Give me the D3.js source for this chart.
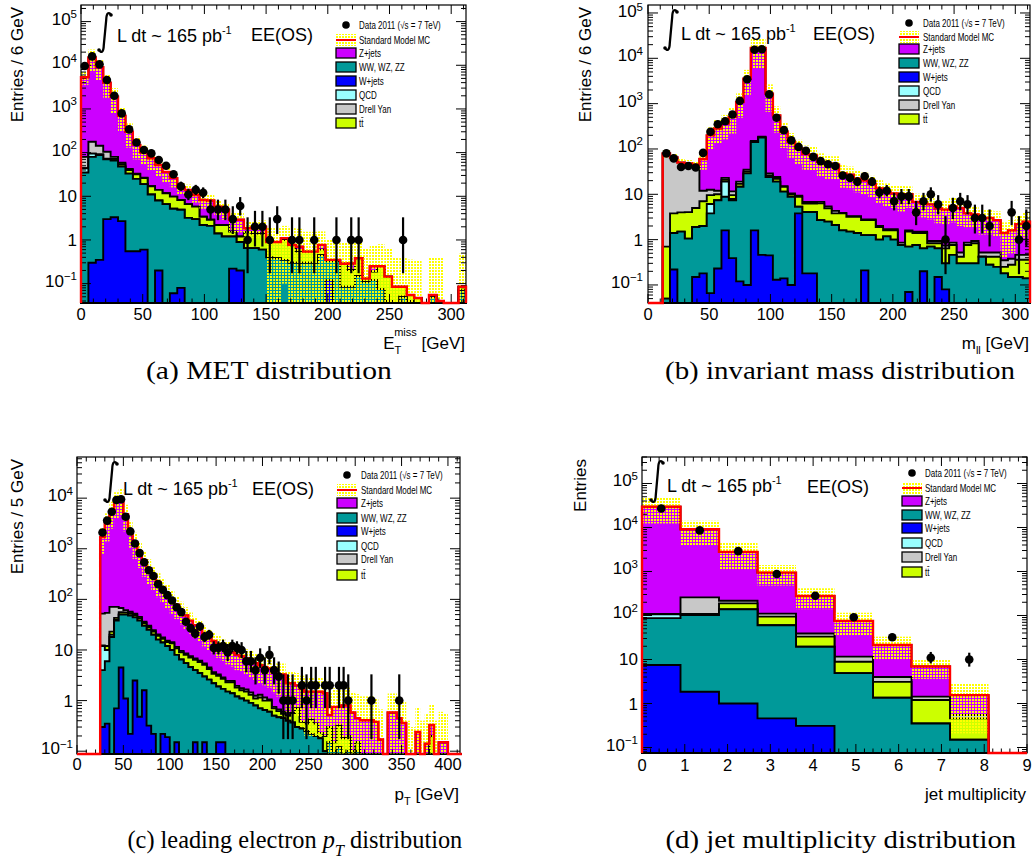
<!DOCTYPE html>
<html>
<head>
<meta charset="utf-8">
<script src="https://cdn.jsdelivr.net/npm/d3@7"></script>
<style>
  body { margin: 0; background: #fff; }
  svg { display: block; }
</style>
</head>
<body>
<svg id="fig" width="1033" height="864"></svg>
<script>
// ---------------- (a) missing transverse energy, 6 GeV bins from 0 ----------------
const metData = [
  9600,16000,10500,4600,2000,790,340,170,115,96,
  68,50,32,17,11,14,12,5,5,5,
  3,6,1,2,2,1,3,0,1,1,
  0,1,0,0,1,0,1,1,0,0,
  0,0,0,1,0,0,0,0,0,0,
  0,0];
const metZjets = [
  5220,14800,8860,3900,1820,640,258,117,73.5,57,
  38,24.3,16.2,7.8,7.4,4.9,4.8,5.1,3.6,2.7,
  1.35,1.7,0.35,0.5,0.6,0,0,0.1,0.02,0.16,
  0,0,0.17,0,0,0,0.085,0,0,0.06,
  0,0,0,0,0,0,0,0,0,0,
  0,0];
const metDiboson = [
  35,79.7,87.6,67,62.7,45.3,32.45,24.45,18.4,11,
  7.8,6.6,5.14,4.82,3.2,3.0,2.2,2.1,1.4,1.2,
  0.98,0.7,0.65,0.65,0.6,0.4,0.38,0.35,0.3,0.3,
  0.3,0.3,0.45,0.21,0.33,0.085,0.085,0.15,0.11,0.12,
  0.075,0.04,0,0.05,0.04,0,0,0.05,0.04,0,
  0,0.07];
const metWjets = [
  0,0.3,0.35,3.0,3.3,2.7,0.55,0.55,0.6,0,
  0.2,0,0.06,0.08,0,0,0,0,0,0,
  0.22,0.2,0,0,0,0,0,0,0,0,
  0,0,0,0.12,0,0,0,0,0,0,
  0,0,0,0,0,0,0,0,0,0,
  0,0];
const metQcd = [
  9,15,3,2,1,0.5,0,0,0,0,
  0,0,0,0,0,0,0,0,0,0,
  0,0,0,0,0,0,0,0,0,0,
  0,0,0,0,0,0,0,0,0,0,
  0,0,0,0,0,0,0,0,0,0,
  0,0];
const metDrellYan = [
  36,83,53,32,8,4,2,1,0.5,0,
  0,0,0,0,0,0,0,0,0,0,
  0,0,0,0,0,0,0,0,0,0,
  0,0,0,0,0,0,0,0,0,0,
  0,0,0,0,0,0,0,0,0,0,
  0,0];
const metTtbar = [
  0,0,0,1,5,6,7,7,7,6,
  6,5.1,4.6,3.3,3.4,2.8,1.2,0.8,0.8,1.0,
  0.35,0.3,0.85,0.75,0.8,0.5,0.52,0.65,0.45,0.24,
  0.24,0.24,0.15,0.02,0.02,0.2,0.12,0.23,0.02,0.07,
  0.175,0.105,0.085,0.035,0.015,0.047,0,0.005,0,0,
  0,0.015];
const metMcErr = [
  1750,8000,4500,2200,1100,400,170,80,45,35,
  24,15,10,5,4.5,3.5,3,3,2.2,2,
  1.4,1.4,0.8,0.8,0.8,1.0,1.0,1.0,1.1,1.1,
  1.0,1.0,0.8,0.7,0.7,0.6,0.6,0.5,0.5,0.5,
  0.55,0.5,0.3,0.3,0.3,0.3,0,0.35,0.35,0,
  0,0.4];

// ---------------- (b) dilepton invariant mass, 6 GeV bins from 0 ----------------
const mllData = [
  0,0,80,62,40,42,39,82,240,350,
  410,575,1150,3450,15500,15800,1600,490,260,155,
  111,91,67,54,46,42,26,23,19,25,
  19,11,12,7,9,9,4,7,10,6,
  1,5,7,6,3,3,2,0,0,4,
  1,2];
const mllZjets = [
  0,0,1.3,0.2,0,0.95,2,48,187,271,
  341,498,1071,3525,16850,16810,1631,526,225,133.5,
  93.7,70.2,65.2,45.2,42.6,40.7,25.1,23.7,18.7,17.2,
  14.2,11.5,9.7,8.8,8.84,8.4,5.3,4.8,5.07,3.97,
  3.86,4.54,4.48,2.94,2.67,2.48,2.48,2.18,1.05,1.22,
  1.74,2.04];
const mllDiboson = [
  0,0,0.05,1.18,1.5,1.05,1.75,1.82,3.73,7.17,
  7.2,7.0,14.6,28.9,141.4,177.5,23.5,18.9,11.3,8.7,
  1.5,3.9,3.9,2.7,2.5,2.1,1.6,1.5,1.4,1.05,
  1.26,1.0,1.18,1.0,0.76,0.63,0.76,0.44,0.7,0.49,
  0.22,0.46,0.3,0.3,0.3,0.42,0.28,0.25,0.18,0.15,
  0.15,0.14];
const mllWjets = [
  0,0,0,0.22,0,0,0.15,0.18,0.066,0.23,
  1.6,0.39,0.12,0.1,1.6,0.46,0.45,0.13,0.14,0.1,
  3.8,0.18,0.18,0,0,0,0,0,0,0.21,
  0,0,0,0,0,0.07,0,0.2,0,0.15,
  0.08,0,0,0,0,0,0,0,0,0,
  0,0];
const mllQcd = [
  0,0,0,0,0,0,0,0,2.3,0,
  10.2,0.5,0,0,0,0,0,0,0,0,
  0,0,0,0,0,0,0,0,0,0,
  0,0,0,0,0,0,0,0,0,0,
  0,0,0,0,0,0,0,0,0,0,
  0,0];
const mllDrellYan = [
  0,0,78,61,46,43,38,5,3,2,
  2,2,2,3,5,5,3,2,0.5,0.5,
  0.5,0.5,0.5,0.5,0.5,0.5,0.1,0.1,0.1,0.1,
  0.1,0.1,0.1,0.1,0.1,0.1,0.1,0.1,0.1,0.1,
  0.1,0.1,0.1,0.1,0.1,0.1,0.1,0.1,0.1,0.1,
  0.1,0.1];
const mllTtbar = [
  0,0,0.65,2.4,2.5,3,3.1,5,3.5,2.6,
  2,1.7,2.3,3,3,3,2,3,3.2,1.2,
  3.5,2.2,2.2,3.6,2.4,1.7,2.2,1.7,1.8,1.44,
  1.44,0.9,0.42,0.6,0,0.8,0.64,0.76,0.13,0.19,
  0.34,0.3,0.12,0.46,0.53,0,0.14,0.17,0.07,0.13,
  0.21,0.22];
const mllMcErr = [
  0,0,15,12,10,9,8,25,100,150,
  200,290,600,2000,11000,11000,1000,320,135,80,
  56,42,39,28,26,24,15,14,11,10,
  8.5,7,6,5.5,5.5,5,3.5,3.2,3.2,2.6,
  2.5,3,3,2,1.8,1.7,1.7,1.5,1.0,1.1,
  1.3,1.4];

// ---------------- (c) leading electron pT, 5 GeV bins from 0 ----------------
const ptData = [
  0,0,0,0,0,2100,3600,5400,9200,9500,
  4300,2200,1270,820,540,375,290,200,155,121,
  95,70,56,36,27,21,29,18,20,11,
  11,12,9,12,11,10,6,6,4,7,
  4,8,4,3,1,1,1,0,2,1,
  2,2,0,2,2,0,2,2,1,0,
  0,0,0,1,0,0,0,0,0,1,
  0,0,0,0,0,0,0,0,0,0,
  0,0,0];
const ptZjets = [
  0,0,0,0,0,1648,3146,5429,8429,9732,
  4739,2243,1298,835,544,380,275,200,152,115,
  85.7,66.5,51.4,39.5,30.45,24.2,19.85,15.6,13.5,11.35,
  9.7,8.65,7.55,6.55,6.05,5.75,5.15,4.75,4.25,3.7,
  3.45,3.25,2.85,2.63,2.7,1.7,1.63,1.3,1.32,1.15,
  1.08,1.15,1.27,1.2,0.22,0.6,0.43,0.62,0.6,0.48,
  0.3,0.36,0.41,0.36,0.33,0.17,0,0.58,0.58,0.4,
  0.36,0,0,0.24,0,0.14,0.13,0,0.15,0.15,
  0,0,0];
const ptDiboson = [
  0,0,0,0,0,3.7,5.65,17.95,37.3,45.5,
  48.9,47.8,41.5,37.5,28.4,24.7,19.8,16,13.8,11.8,
  10,7.85,6.5,5.5,4.6,3.85,3.5,2.85,2.6,2.2,
  1.75,1.55,1.5,1.4,1.2,1.1,1.0,0.9,0.8,0.7,
  0.65,0.6,0.5,0.47,0.45,0.4,0.37,0.3,0.28,0.25,
  0.22,0.2,0.18,0.1,0.15,0.1,0.12,0.08,0.1,0.05,
  0.1,0.05,0,0.05,0,0,0,0,0,0.05,
  0,0,0,0,0,0,0,0,0,0,
  0,0,0];
const ptWjets = [
  0,0,0,0,0,0.3,0.35,0.05,0.7,4.5,
  1.1,0.22,2.5,0.48,1.6,0.32,0.22,0,0.22,0.19,
  0,0.15,0,0,0,0.15,0,0.15,0,0,
  0.15,0.15,0,0,0,0,0,0,0,0,
  0,0,0,0,0,0,0,0,0,0,
  0,0,0,0,0,0,0,0,0,0,
  0,0,0,0,0,0,0,0,0,0,
  0,0,0,0,0,0,0,0,0,0,
  0,0,0];
const ptQcd = [
  0,0,0,0,0,8,4,2,1,0.5,
  0.3,0,0,0,0,0,0,0,0,0,
  0,0,0,0,0,0,0,0,0,0,
  0,0,0,0,0,0,0,0,0,0,
  0,0,0,0,0,0,0,0,0,0,
  0,0,0,0,0,0,0,0,0,0,
  0,0,0,0,0,0,0,0,0,0,
  0,0,0,0,0,0,0,0,0,0,
  0,0,0];
const ptDrellYan = [
  0,0,0,0,0,40,42,48,28,12,
  6,4,3,2.5,2,1.6,1.4,1.2,1,0.9,
  0.8,0.7,0.6,0.5,0.45,0.4,0.35,0.3,0.3,0.25,
  0.2,0.15,0.15,0.15,0.15,0.15,0.15,0.15,0.15,0.15,
  0.15,0.05,0.05,0.05,0.05,0,0,0,0,0,
  0,0,0,0,0,0,0,0,0,0,
  0,0,0,0,0,0,0,0,0,0,
  0,0,0,0,0,0,0,0,0,0,
  0,0,0];
const ptTtbar = [
  0,0,0,0,0,0.3,2,3,4,5,
  5,5,5,4.5,4,3.5,3.2,3,2.6,2.4,
  3.5,2.8,2.5,2.5,2.5,2.4,2.3,2.1,1.6,1.2,
  1.2,1.0,0.8,0.9,0.6,0.5,0.5,0.4,0.3,0.45,
  0.35,0.4,0.2,0.15,0.1,0.1,0.2,0.4,0.1,0.1,
  0.2,0.15,0.05,0.1,0.15,0.05,0.2,0.1,0.1,0.05,
  0.05,0,0,0,0.05,0,0,0,0,0,
  0,0,0,0,0,0,0.2,0,0,0,
  0,0,0];
const ptMcErr = [
  0,0,0,0,0,900,1800,3000,4600,5400,
  2600,1250,720,460,300,210,150,110,84,64,
  48,37,29,22,17,14,11.5,9.2,8,6.8,
  6,5.4,4.8,4.3,4,3.8,3.5,3.3,3.0,2.8,
  2.6,2.5,2.2,2.1,2.1,1.6,1.6,1.5,1.4,1.3,
  1.3,1.3,1.3,1.2,0.9,1.0,1.0,1.0,1.0,0.9,
  0.9,0.8,0.8,0.8,0.7,0.5,0,0.8,0.8,0.7,
  0.6,0.4,0.3,0.5,0.4,0.4,0.5,0.4,0.45,0.4,
  0,0,0];

// ---------------- (d) jet multiplicity, bins of 0.9 from 0 ----------------
const njData     = [27000, 8600, 2900, 880, 280, 91, 32, 11, 10, 0];
const njZjets    = [29590, 8842, 2582, 830, 238, 64, 17.4, 5.5, 1.0, 0];
const njDiboson  = [79.5, 101, 137, 59.5, 19.2, 4.9, 1.35, 0.35, 0.15, 0];
const njWjets    = [7.5, 1.85, 1.0, 0.46, 0.31, 0, 0, 0, 0, 0];
const njQcd      = [20, 1, 0.5, 0.3, 0.1, 0, 0, 0, 0, 0];
const njDrellYan = [1, 149, 28, 16, 6, 2.7, 0.9, 0.23, 0.09, 0];
const njTtbar    = [0.5, 5, 50, 34, 13.5, 4, 1.75, 0.85, 0.31, 0];
const njMcErr    = [17300, 5100, 1700, 460, 138, 40, 11.6, 3.3, 1.34, 0];

// ---------------- styles ----------------
const FONT = "'Liberation Sans', Arial, Helvetica, sans-serif";
const SERIF = "'Liberation Serif', 'Times New Roman', serif";

// stacking order, bottom to top
const STACK = [
  { key: 'wjets',   color: '#0000ff' },
  { key: 'diboson', color: '#009999' },
  { key: 'qcd',     color: '#99ffff' },
  { key: 'ttbar',   color: '#ccff00' },
  { key: 'dy',      color: '#c8c8c8' },
  { key: 'zjets',   color: '#cc00ff' }
];
const COLOR = Object.fromEntries(STACK.map(s => [s.key, s.color]));

const LEGEND = [
  { type: 'data', label: 'Data 2011 (\u221As = 7 TeV)' },
  { type: 'mc',   label: 'Standard Model MC' },
  { type: 'box',  key: 'zjets',   label: 'Z+jets' },
  { type: 'box',  key: 'diboson', label: 'WW, WZ, ZZ' },
  { type: 'box',  key: 'wjets',   label: 'W+jets' },
  { type: 'box',  key: 'qcd',     label: 'QCD' },
  { type: 'box',  key: 'dy',      label: 'Drell Yan' },
  { type: 'box',  key: 'ttbar',   label: 'tt\u0304' }
];

// 68% Garwood intervals for small counts
const GARWOOD = [[0,1.841],[0.173,3.300],[0.708,4.638],[1.367,5.918],[2.086,7.163],
  [2.840,8.382],[3.620,9.584],[4.419,10.77],[5.232,11.95],[6.057,13.11],[6.891,14.27]];
function poissonBand(n) {
  if (n <= 10) return GARWOOD[n];
  const s = Math.sqrt(n + 0.25);
  return [n + 0.5 - s, n + 0.5 + s];
}

const PANELS = [
  {
    frame: { l: 81, r: 466, t: 5, b: 303 }, xDomain: [0, 312], yDomain: [0.036, 2.4e5], binW: 6,
    xMajor: 50, xMinor: 10, xLabelY: 320, yLabelX: 77,
    series: { data: metData, zjets: metZjets, diboson: metDiboson, wjets: metWjets, qcd: metQcd, dy: metDrellYan, ttbar: metTtbar, err: metMcErr },
    yTitle: 'Entries / 6 GeV', yTitleX: 23,
    xTitle: [{ t: 'E' }, { t: 'T', sub: true }, { t: 'miss', sup: true, back: 7 }, { t: ' [GeV]' }], xTitleY: 349,
    legend: { rows: [25, 40, 53, 67, 81, 95, 109, 123], box: 336, text: 359 },
    lumi: { ix: 105, it: 12, ib: 53, tx: 117, ty: 42, ex: 251, ey: 41 }
  },
  {
    frame: { l: 648, r: 1030, t: 5, b: 303 }, xDomain: [0, 312], yDomain: [0.04, 1.5e5], binW: 6,
    xMajor: 50, xMinor: 10, xLabelY: 320, yLabelX: 643,
    series: { data: mllData, zjets: mllZjets, diboson: mllDiboson, wjets: mllWjets, qcd: mllQcd, dy: mllDrellYan, ttbar: mllTtbar, err: mllMcErr },
    yTitle: 'Entries / 6 GeV', yTitleX: 591,
    xTitle: [{ t: 'm' }, { t: 'll', sub: true }, { t: ' [GeV]' }], xTitleY: 349,
    legend: { rows: [23, 37, 49, 63, 77, 91, 105, 119], box: 899, text: 923 },
    lumi: { ix: 671, it: 9, ib: 51, tx: 681, ty: 40, ex: 813, ey: 40 }
  },
  {
    frame: { l: 77, r: 460, t: 457, b: 754 }, xDomain: [0, 413], yDomain: [0.088, 6.5e4], binW: 5,
    xMajor: 50, xMinor: 10, xLabelY: 770, yLabelX: 73,
    series: { data: ptData, zjets: ptZjets, diboson: ptDiboson, wjets: ptWjets, qcd: ptQcd, dy: ptDrellYan, ttbar: ptTtbar, err: ptMcErr },
    yTitle: 'Entries / 5 GeV', yTitleX: 23,
    xTitle: [{ t: 'p' }, { t: 'T', sub: true }, { t: ' [GeV]' }], xTitleY: 800,
    legend: { rows: [475, 490, 503, 518, 531, 546, 559, 575], box: 337, text: 361 },
    lumi: { ix: 111, it: 461, ib: 503, tx: 123, ty: 495, ex: 252, ey: 495 }
  },
  {
    frame: { l: 642, r: 1027, t: 457, b: 753 }, xDomain: [0, 9], yDomain: [0.075, 4e5], binW: 0.9,
    xMajor: 1, xMinor: 0.2, xLabelY: 771, yLabelX: 638,
    series: { data: njData, zjets: njZjets, diboson: njDiboson, wjets: njWjets, qcd: njQcd, dy: njDrellYan, ttbar: njTtbar, err: njMcErr },
    yTitle: 'Entries', yTitleX: 586,
    xTitle: [{ t: 'jet multiplicity' }], xTitleY: 800,
    legend: { rows: [473, 488, 501, 515, 528, 543, 557, 572], box: 902, text: 925 },
    lumi: { ix: 657, it: 460, ib: 503, tx: 667, ty: 492, ex: 807, ey: 493 }
  }
];

const CAPTIONS = [
  { cx: 269, y: 379, w: 246, parts: [{ t: '(a) MET distribution' }] },
  { cx: 840, y: 379, w: 350, parts: [{ t: '(b) invariant mass distribution' }] },
  { cx: 295, y: 848, w: 335, parts: [{ t: '(c) leading electron ' }, { t: 'p', it: true }, { t: 'T', sub: true, it: true }, { t: ' distribution' }] },
  { cx: 841, y: 848, w: 351, parts: [{ t: '(d) jet multiplicity distribution' }] }
];

// ---------------- drawing ----------------
const svg = d3.select('#fig');
const defs = svg.append('defs');
// dotted fill for the MC uncertainty band
const pat = defs.append('pattern').attr('id', 'mcband')
  .attr('width', 3).attr('height', 3).attr('patternUnits', 'userSpaceOnUse');
pat.append('rect').attr('width', 2).attr('height', 2).attr('fill', '#ffff00');

function addParts(text, parts, size, small) {
  parts.forEach(p => {
    const ts = text.append('tspan').text(p.t);
    if (p.it) ts.attr('font-style', 'italic');
    if (p.sub) { ts.attr('font-size', small).attr('dy', size * 0.3); text._shift = size * 0.3; }
    else if (p.sup) {
      ts.attr('font-size', small).attr('dy', -size * 0.75 - (text._shift || 0));
      if (p.back) ts.attr('dx', -p.back);
      text._shift = -size * 0.75;
    } else if (text._shift) { ts.attr('dy', -text._shift); text._shift = 0; }
  });
}

function drawIntegral(g, cx, top, bottom) {
  const d = `M${cx + 6},${top + 3} C${cx + 4},${top - 0.5} ${cx + 1.4},${top + 0.5} ${cx + 1.2},${top + 8}` +
            ` L${cx - 1.2},${bottom - 8} C${cx - 1.4},${bottom - 0.5} ${cx - 4},${bottom + 0.5} ${cx - 6},${bottom - 3}`;
  g.append('path').attr('d', d).attr('fill', 'none').attr('stroke', '#000').attr('stroke-width', 2.3);
  g.append('circle').attr('cx', cx + 6).attr('cy', top + 3).attr('r', 1.8);
  g.append('circle').attr('cx', cx - 6).attr('cy', bottom - 3).attr('r', 1.8);
}

function drawPanel(P) {
  const g = svg.append('g');
  const { l, r, t, b } = P.frame;
  const x = d3.scaleLinear().domain(P.xDomain).range([l, r]);
  const y = d3.scaleLog().domain(P.yDomain).range([b, t]).clamp(true);
  const S = P.series;
  const n = S.data.length;
  const edges = d3.range(n + 1).map(i => P.binW * i);
  const yv = v => (v > 0 ? y(v) : b);
  const stepPath = (vals, close) => {
    let d = `M${x(edges[0])},${b}`;
    vals.forEach((v, i) => {
      const yy = yv(v);
      d += `L${x(edges[i])},${yy}L${x(edges[i + 1])},${yy}`;
    });
    d += `L${x(edges[n])},${b}`;
    return close ? d + 'Z' : d;
  };

  // cumulative stack
  const layers = [];
  let cum = new Array(n).fill(0);
  STACK.forEach(s => {
    cum = cum.map((c, i) => c + S[s.key][i]);
    layers.push({ color: s.color, vals: cum.slice() });
  });
  const total = layers[layers.length - 1].vals;
  layers.slice().reverse().forEach(L => {
    g.append('path').attr('d', stepPath(L.vals, true))
      .attr('fill', L.color).attr('stroke', '#000').attr('stroke-width', 1.9);
  });

  // MC uncertainty band
  S.err.forEach((e, i) => {
    if (!(e > 0)) return;
    const hi = total[i] + e, lo = total[i] - e;
    const y1 = y(hi), y2 = lo > 0 ? y(lo) : b;
    g.append('rect').attr('x', x(edges[i])).attr('width', x(edges[i + 1]) - x(edges[i]))
      .attr('y', y1).attr('height', Math.max(0, y2 - y1)).attr('fill', 'url(#mcband)');
  });

  // frame
  g.append('rect').attr('x', l).attr('y', t).attr('width', r - l).attr('height', b - t)
    .attr('fill', 'none').attr('stroke', '#000').attr('stroke-width', 1.2);

  // x ticks (bottom and top, pointing inward)
  const ticks = g.append('g').attr('stroke', '#000').attr('stroke-width', 1);
  const nMinor = Math.round((P.xDomain[1] - P.xDomain[0]) / P.xMinor);
  for (let k = 0; k <= nMinor; k++) {
    const v = P.xDomain[0] + k * P.xMinor;
    if (v > P.xDomain[1] + 1e-9) break;
    const major = Math.abs(v / P.xMajor - Math.round(v / P.xMajor)) < 1e-6;
    const len = major ? 9 : 4.5;
    const xx = x(v);
    ticks.append('line').attr('x1', xx).attr('x2', xx).attr('y1', b).attr('y2', b - len);
    ticks.append('line').attr('x1', xx).attr('x2', xx).attr('y1', t).attr('y2', t + len);
    if (major) {
      g.append('text').attr('x', xx).attr('y', P.xLabelY).attr('text-anchor', 'middle')
        .attr('font-family', FONT).attr('font-size', 16.5).text(d3.format('d')(Math.round(v)));
    }
  }

  // y ticks on a log axis
  const [ymin, ymax] = P.yDomain;
  for (let dec = Math.floor(Math.log10(ymin)); dec <= Math.ceil(Math.log10(ymax)); dec++) {
    for (let m = 1; m <= 9; m++) {
      const v = m * Math.pow(10, dec);
      if (v < ymin || v > ymax) continue;
      const yy = y(v);
      const len = m === 1 ? 10 : 5;
      ticks.append('line').attr('x1', l).attr('x2', l + len).attr('y1', yy).attr('y2', yy);
      ticks.append('line').attr('x1', r).attr('x2', r - len).attr('y1', yy).attr('y2', yy);
      if (m === 1) {
        const txt = g.append('text').attr('x', P.yLabelX).attr('text-anchor', 'end')
          .attr('font-family', FONT).attr('font-size', 17);
        if (dec === 0 || dec === 1) {
          txt.attr('y', yy + 6).text(dec === 0 ? '1' : '10');
        } else {
          txt.attr('y', Math.max(yy + 3, 17));
          txt.append('tspan').text('10');
          txt.append('tspan').attr('font-size', 11.5).attr('dy', -6.5).text(String(dec).replace('-', '\u2212'));
        }
      }
    }
  }

  // total MC outline
  g.append('path').attr('d', stepPath(total, false)).attr('fill', 'none')
    .attr('stroke', '#ff0000').attr('stroke-width', 2.4);

  // data with Poisson error bars
  S.data.forEach((cnt, i) => {
    if (!(cnt > 0)) return;
    const cx = x((edges[i] + edges[i + 1]) / 2);
    const [lo, hi] = poissonBand(cnt);
    g.append('line').attr('x1', cx).attr('x2', cx).attr('y1', yv(lo)).attr('y2', y(hi))
      .attr('stroke', '#000').attr('stroke-width', 2.2);
    g.append('circle').attr('cx', cx).attr('cy', y(cnt)).attr('r', 4.3).attr('fill', '#000');
  });

  // axis titles
  g.append('text').attr('transform', `translate(${P.yTitleX},${t + 2}) rotate(-90)`)
    .attr('text-anchor', 'end').attr('font-family', FONT).attr('font-size', 17).text(P.yTitle);
  const xt = g.append('text').attr('x', r - 1).attr('y', P.xTitleY).attr('text-anchor', 'end')
    .attr('font-family', FONT).attr('font-size', 17);
  addParts(xt, P.xTitle, 17, 11);

  // luminosity and channel labels
  const L = P.lumi;
  drawIntegral(g, L.ix, L.it, L.ib);
  const lt = g.append('text').attr('x', L.tx).attr('y', L.ty).attr('font-family', FONT).attr('font-size', 18);
  lt.append('tspan').text('L dt ~ 165 pb');
  lt.append('tspan').attr('font-size', 11).attr('dy', -8).text('-1');
  g.append('text').attr('x', L.ex).attr('y', L.ey).attr('font-family', FONT).attr('font-size', 18).text('EE(OS)');

  // legend
  const lg = P.legend;
  LEGEND.forEach((e, k) => {
    const ry = lg.rows[k];
    if (e.type === 'data') {
      g.append('circle').attr('cx', lg.box + 10).attr('cy', ry).attr('r', 3.8).attr('fill', '#000');
    } else if (e.type === 'mc') {
      g.append('rect').attr('x', lg.box).attr('y', ry - 6).attr('width', 20).attr('height', 12).attr('fill', 'url(#mcband)');
      g.append('line').attr('x1', lg.box).attr('x2', lg.box + 20).attr('y1', ry).attr('y2', ry)
        .attr('stroke', '#ff0000').attr('stroke-width', 2);
    } else {
      g.append('rect').attr('x', lg.box).attr('y', ry - 5).attr('width', 20).attr('height', 10)
        .attr('fill', COLOR[e.key]).attr('stroke', '#000').attr('stroke-width', 1.3);
    }
    g.append('text').attr('transform', `translate(${lg.text},${ry + 3.5}) scale(0.8,1)`)
      .attr('font-family', FONT).attr('font-size', 10).text(e.label);
  });
}

PANELS.forEach(drawPanel);

// sub-figure captions
CAPTIONS.forEach(c => {
  const txt = svg.append('text').attr('x', 0).attr('y', 0)
    .attr('font-family', SERIF).attr('font-size', 25);
  addParts(txt, c.parts, 25, 17);
  const w = txt.node().getComputedTextLength();
  const sx = c.w / w;
  txt.attr('transform', `translate(${c.cx - c.w / 2},${c.y}) scale(${sx},1)`);
});
</script>
</body>
</html>
